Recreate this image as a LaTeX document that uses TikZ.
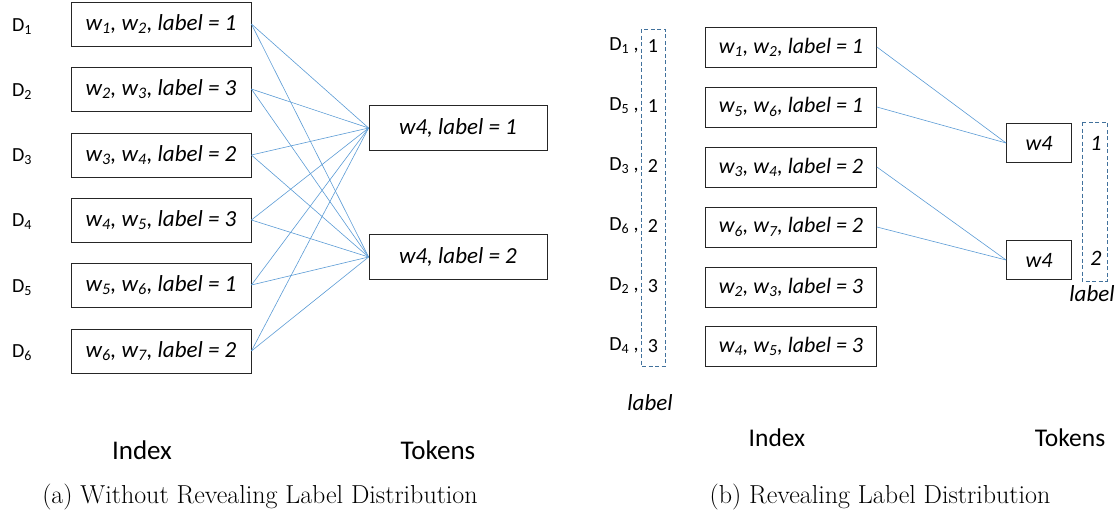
\documentclass[tikz,border=0pt]{standalone}
\usepackage{fontspec}
\newfontfamily\calfont{Carlito}
\definecolor{linkblue}{RGB}{91,155,213}
\definecolor{dashblue}{RGB}{65,113,156}
\begin{document}
\begin{tikzpicture}[x=1pt, y=-1pt,
    docA/.style={draw=black!85, line width=0.8pt, minimum width=180, minimum height=44,
        inner sep=0pt, font=\calfont\itshape\fontsize{23}{25}\selectfont},
    docB/.style={docA, minimum width=171, minimum height=40, font=\calfont\itshape\fontsize{22}{24}\selectfont},
    tokA/.style={docA, minimum width=178, minimum height=45},
    tokB/.style={docB, minimum width=65, minimum height=39},
    dname/.style={font=\calfont\fontsize{20}{22}\selectfont},
    link/.style={draw=linkblue, line width=0.6pt},
    lblbox/.style={draw=dashblue, line width=0.8pt, dash pattern=on 4pt off 2.5pt},
    axis/.style={font=\calfont\fontsize{27}{29}\selectfont},
    capt/.style={font=\fontsize{26}{30}\selectfont}]
    \useasboundingbox (0,0) rectangle (1119,523);

    % (a) documents, no labels shown
    \node[dname] (da1) at (22,27) {D\textsubscript{1}};
    \node[dname] (da2) at (22,92) {D\textsubscript{2}};
    \node[dname] (da3) at (22,157) {D\textsubscript{3}};
    \node[dname] (da4) at (22,222) {D\textsubscript{4}};
    \node[dname] (da5) at (22,288) {D\textsubscript{5}};
    \node[dname] (da6) at (22,353) {D\textsubscript{6}};
    \node[docA] (a1) at (161,24) {w\textsubscript{1}, w\textsubscript{2}, label = 1};
    \node[docA] (a2) at (161,89) {w\textsubscript{2}, w\textsubscript{3}, label = 3};
    \node[docA] (a3) at (161,155) {w\textsubscript{3}, w\textsubscript{4}, label = 2};
    \node[docA] (a4) at (161,220) {w\textsubscript{4}, w\textsubscript{5}, label = 3};
    \node[docA] (a5) at (161,285) {w\textsubscript{5}, w\textsubscript{6}, label = 1};
    \node[docA] (a6) at (161,351) {w\textsubscript{6}, w\textsubscript{7}, label = 2};

    % (a) tokens
    \node[tokA] (ta1) at (458,128) {w4, label = 1};
    \node[tokA] (ta2) at (458,257) {w4, label = 2};

    % every document to both tokens
    \draw[link] (a1.east) -- (ta1.west);
    \draw[link] (a1.east) -- (ta2.west);
    \draw[link] (a2.east) -- (ta1.west);
    \draw[link] (a2.east) -- (ta2.west);
    \draw[link] (a3.east) -- (ta1.west);
    \draw[link] (a3.east) -- (ta2.west);
    \draw[link] (a4.east) -- (ta1.west);
    \draw[link] (a4.east) -- (ta2.west);
    \draw[link] (a5.east) -- (ta1.west);
    \draw[link] (a5.east) -- (ta2.west);
    \draw[link] (a6.east) -- (ta1.west);
    \draw[link] (a6.east) -- (ta2.west);

    \node[axis] (ixa) at (142,450) {Index};
    \node[axis] (tka) at (438,450) {Tokens};
    \node[capt] (capa) at (260,497) {(a) Without Revealing Label Distribution};

    % (b) documents sorted by label
    \node[dname] (db1) at (624,46) {D\textsubscript{1} ,};
    \node[dname] (db5) at (624,106) {D\textsubscript{5} ,};
    \node[dname] (db3) at (624,166) {D\textsubscript{3} ,};
    \node[dname] (db6) at (624,226) {D\textsubscript{6} ,};
    \node[dname] (db2) at (624,286) {D\textsubscript{2} ,};
    \node[dname] (db4) at (624,346) {D\textsubscript{4} ,};
    \draw[lblbox] (641,29) rectangle (665,366);
    \node[dname] (nb1) at (653,46) {1};
    \node[dname] (nb5) at (653,106) {1};
    \node[dname] (nb3) at (653,166) {2};
    \node[dname] (nb6) at (653,226) {2};
    \node[dname] (nb2) at (653,286) {3};
    \node[dname] (nb4) at (653,346) {3};
    \node[dname, font=\calfont\itshape\fontsize{23}{25}\selectfont] (lbl1) at (650,403) {label};

    \node[docB] (b1) at (791,47) {w\textsubscript{1}, w\textsubscript{2}, label = 1};
    \node[docB] (b5) at (791,107) {w\textsubscript{5}, w\textsubscript{6}, label = 1};
    \node[docB] (b3) at (791,167) {w\textsubscript{3}, w\textsubscript{4}, label = 2};
    \node[docB] (b6) at (791,227) {w\textsubscript{6}, w\textsubscript{7}, label = 2};
    \node[docB] (b2) at (791,287) {w\textsubscript{2}, w\textsubscript{3}, label = 3};
    \node[docB] (b4) at (791,346) {w\textsubscript{4}, w\textsubscript{5}, label = 3};

    % (b) tokens with their label
    \node[tokB] (tb1) at (1039,143) {w4};
    \node[tokB] (tb2) at (1039,260) {w4};
    \draw[lblbox] (1082,122) rectangle (1107,281);
    \node[dname, font=\calfont\itshape\fontsize{22}{24}\selectfont] (mb1) at (1096,143) {1};
    \node[dname, font=\calfont\itshape\fontsize{22}{24}\selectfont] (mb2) at (1096,258) {2};
    \node[dname, font=\calfont\itshape\fontsize{23}{25}\selectfont] (lbl2) at (1092,294) {label};

    \draw[link] (b1.east) -- (tb1.west);
    \draw[link] (b5.east) -- (tb1.west);
    \draw[link] (b3.east) -- (tb2.west);
    \draw[link] (b6.east) -- (tb2.west);

    \node[axis, font=\calfont\fontsize{25.5}{28}\selectfont] (ixb) at (777,438) {Index};
    \node[axis, font=\calfont\fontsize{25.5}{28}\selectfont] (tkb) at (1070,438) {Tokens};
    \node[capt] (capb) at (880,497) {(b) Revealing Label Distribution};
\end{tikzpicture}
\end{document}
